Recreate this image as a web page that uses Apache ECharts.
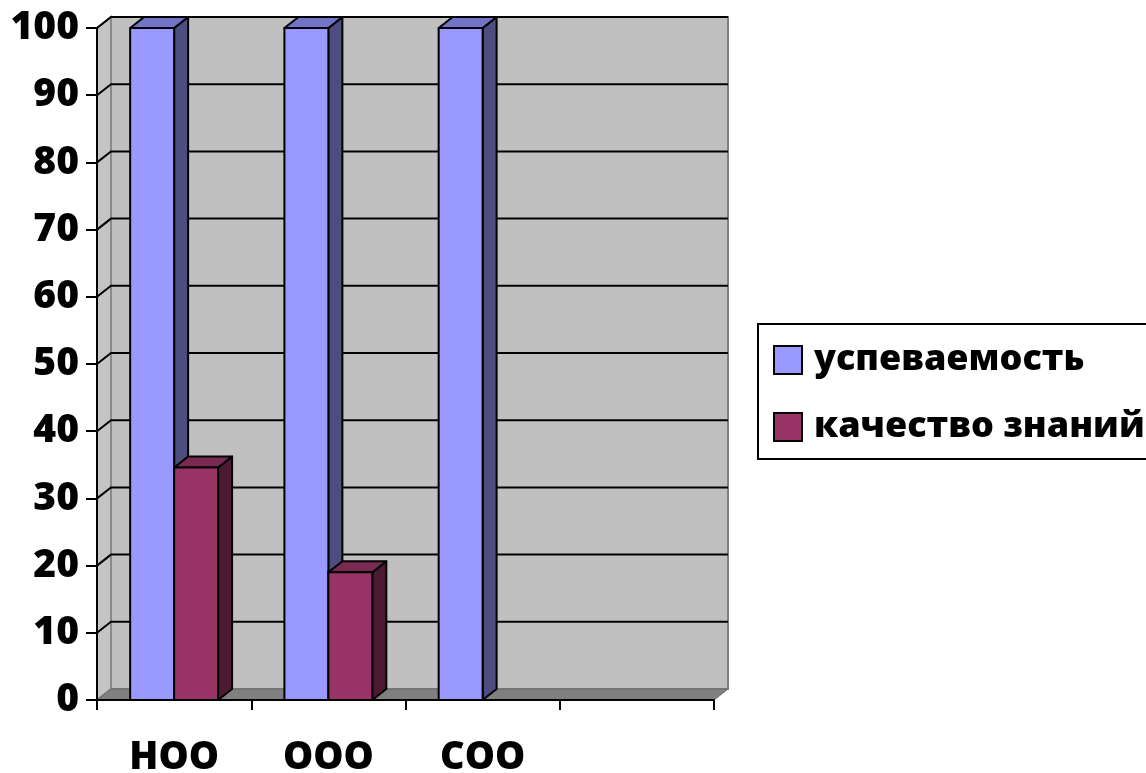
<!DOCTYPE html>
<html><head><meta charset="utf-8">
<script src="https://cdn.jsdelivr.net/npm/echarts@6/dist/echarts.min.js"></script>
<style>html,body{margin:0;padding:0;background:#fff}#c{width:1146px;height:773px}</style>
</head><body><div id="c"></div><script>
// ---- data ----
const categories = ['НОО', 'ООО', 'СОО', ''];
const seriesNames = ['успеваемость', 'качество знаний'];
const uspevaemost = [100, 100, 100, null];
const kachestvo = [34.6, 19, null, null];
const yTicks = [0, 10, 20, 30, 40, 50, 60, 70, 80, 90, 100];

// ---- style ----
const DX = 14, DY = -11;          // depth offset of the 3D box
const BAR_FRAC = 0.285;           // bar width relative to category band
const FONT = 'Open Sans';
const WEIGHT = 800;
const colors = [
  { front: '#9999ff', top: '#7373c8', side: '#4d4d80' },
  { front: '#993366', top: '#7a2952', side: '#4d1a33' }
];

function pairs(arr) {
  const out = [];
  arr.forEach((v, i) => { if (v !== null && v !== undefined) out.push([i, v]); });
  return out;
}

function wallsRender(params, api) {
  const cs = params.coordSys;
  const x0 = cs.x, x1 = cs.x + cs.width;
  const yT = cs.y, yB = cs.y + cs.height;
  return {
    type: 'group',
    children: [
      { type: 'polygon', shape: { points: [[x0 + DX, yT + DY], [x1 + DX, yT + DY], [x1 + DX, yB + DY], [x0 + DX, yB + DY]] },
        style: { fill: '#c0c0c0', stroke: '#808080', lineWidth: 2 } },
      { type: 'polygon', shape: { points: [[x0, yT], [x0 + DX, yT + DY], [x0 + DX, yB + DY], [x0, yB]] },
        style: { fill: '#c4c4c4', stroke: '#8a8a8a', lineWidth: 2 } },
      { type: 'polygon', shape: { points: [[x0, yB], [x0 + DX, yB + DY], [x1 + DX, yB + DY], [x1, yB]] },
        style: { fill: '#808080', stroke: '#6a6a6a', lineWidth: 1 } }
    ]
  };
}

function gridRender(params, api) {
  const cs = params.coordSys;
  const v = api.value(1);
  if (v === 0) return;
  const p = api.coord([0, v]);
  const x0 = cs.x, x1 = cs.x + cs.width;
  return {
    type: 'polyline',
    shape: { points: [[x0, p[1]], [x0 + DX, p[1] + DY], [x1 + DX, p[1] + DY]] },
    style: { stroke: '#000', lineWidth: 2, fill: null }
  };
}

function barRender(s) {
  return function (params, api) {
    const ci = api.value(0), v = api.value(1);
    const base = api.coord([ci, 0]);
    const top = api.coord([ci, v]);
    const band = api.size([1, 0])[0];
    const bw = band * BAR_FRAC;
    const l = base[0] - bw + s * bw, r = l + bw;
    const yt = top[1], yb = base[1];
    const c = colors[s];
    const st = { stroke: '#000', lineWidth: 2, lineJoin: 'round' };
    return {
      type: 'group',
      children: [
        { type: 'polygon', shape: { points: [[r, yt], [r + DX, yt + DY], [r + DX, yb + DY], [r, yb]] },
          style: Object.assign({ fill: c.side }, st) },
        { type: 'polygon', shape: { points: [[l, yt], [l + DX, yt + DY], [r + DX, yt + DY], [r, yt]] },
          style: Object.assign({ fill: c.top }, st) },
        { type: 'rect', shape: { x: l, y: yt, width: bw, height: yb - yt },
          style: Object.assign({ fill: c.front }, st) }
      ]
    };
  };
}

const chart = echarts.init(document.getElementById('c'), null, { renderer: 'canvas' });
chart.setOption({
  animation: false,
  backgroundColor: '#fff',
  grid: { left: 97, right: 432, top: 28, bottom: 73, containLabel: false, outerBoundsMode: 'none' },
  legend: {
    left: 758, top: 324,
    orient: 'vertical',
    data: seriesNames.map((n, i) => ({ name: n, icon: 'rect', itemStyle: { color: colors[i].front, borderColor: '#000', borderWidth: 2 } })),
    itemWidth: 28, itemHeight: 28, itemGap: 31,
    padding: [18, 60, 14, 15],
    borderColor: '#000', borderWidth: 2,
    textStyle: { fontFamily: FONT, fontWeight: WEIGHT, fontSize: 36, color: '#000', padding: [0, 0, 0, 7] },
    selectedMode: false
  },
  xAxis: {
    type: 'category', data: categories, boundaryGap: true, z: 10,
    axisLine: { lineStyle: { color: '#000', width: 2 } },
    axisTick: { show: true, length: 10, lineStyle: { color: '#000', width: 2 } },
    axisLabel: { fontFamily: FONT, fontWeight: WEIGHT, fontSize: 38, color: '#000', margin: 39 },
    splitLine: { show: false }
  },
  yAxis: {
    type: 'value', min: 0, max: 100, interval: 10, z: 10,
    axisLine: { show: true, lineStyle: { color: '#000', width: 2 } },
    axisTick: { show: true, length: 11, lineStyle: { color: '#000', width: 2 } },
    axisLabel: { fontFamily: FONT, fontWeight: WEIGHT, fontSize: 39, color: '#000', margin: 18 },
    splitLine: { show: false }
  },
  series: [
    { type: 'custom', name: '_walls', renderItem: wallsRender, data: [[0, 0]], z: 1, silent: true },
    { type: 'custom', name: '_grid', renderItem: gridRender, data: yTicks.map(v => [0, v]), z: 2, silent: true },
    { type: 'custom', name: seriesNames[0], renderItem: barRender(0), data: pairs(uspevaemost), z: 3,
      itemStyle: { color: colors[0].front }, encode: { x: 0, y: 1 } },
    { type: 'custom', name: seriesNames[1], renderItem: barRender(1), data: pairs(kachestvo), z: 4,
      itemStyle: { color: colors[1].front }, encode: { x: 0, y: 1 } }
  ]
});
</script></body></html>
